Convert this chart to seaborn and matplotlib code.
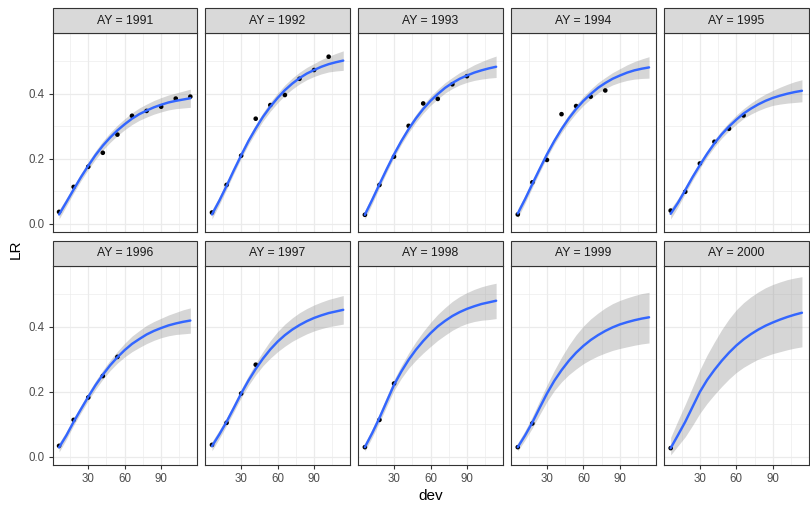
import matplotlib
matplotlib.use("Agg")
import matplotlib.pyplot as plt
import seaborn as sns
import pandas as pd
from matplotlib.patches import Rectangle
from matplotlib.ticker import FixedLocator, StrMethodFormatter

# ---------------- data ----------------
years = [1991, 1992, 1993, 1994, 1995, 1996, 1997, 1998, 1999, 2000]
dev_obs = [6, 18, 30, 42, 54, 66, 78, 90, 102, 114]
dev_fit = [6, 12, 18, 24, 30, 36, 42, 48, 54, 60, 66, 72, 78, 84, 90, 96, 102, 108, 114]
x_ticks = [30, 60, 90]
y_ticks = [0.0, 0.2, 0.4]

obs_1991 = [0.036, 0.113, 0.175, 0.218, 0.274, 0.332, 0.347, 0.360, 0.385, 0.391]
obs_1992 = [0.034, 0.119, 0.209, 0.323, 0.365, 0.396, 0.446, 0.473, 0.514]
obs_1993 = [0.027, 0.119, 0.206, 0.301, 0.370, 0.384, 0.429, 0.454]
obs_1994 = [0.028, 0.127, 0.196, 0.337, 0.362, 0.391, 0.410]
obs_1995 = [0.040, 0.098, 0.185, 0.252, 0.292, 0.333]
obs_1996 = [0.033, 0.113, 0.182, 0.248, 0.307]
obs_1997 = [0.036, 0.104, 0.194, 0.283]
obs_1998 = [0.029, 0.113, 0.225]
obs_1999 = [0.029, 0.102]
obs_2000 = [0.026]

fit_1991 = [0.028, 0.066, 0.105, 0.143, 0.178, 0.211, 0.240, 0.265, 0.287, 0.306, 0.323, 0.337, 0.348, 0.358, 0.366, 0.373, 0.378, 0.382, 0.386]
lo_1991 = [0.014, 0.054, 0.094, 0.132, 0.166, 0.198, 0.226, 0.250, 0.271, 0.289, 0.305, 0.318, 0.328, 0.337, 0.344, 0.350, 0.354, 0.356, 0.358]
hi_1991 = [0.042, 0.078, 0.116, 0.154, 0.190, 0.224, 0.254, 0.280, 0.303, 0.323, 0.341, 0.356, 0.368, 0.379, 0.388, 0.396, 0.402, 0.408, 0.414]

fit_1992 = [0.028, 0.070, 0.116, 0.164, 0.210, 0.254, 0.293, 0.329, 0.360, 0.387, 0.411, 0.431, 0.448, 0.462, 0.473, 0.483, 0.491, 0.497, 0.502]
lo_1992 = [0.014, 0.058, 0.105, 0.154, 0.200, 0.243, 0.281, 0.316, 0.346, 0.372, 0.395, 0.414, 0.430, 0.443, 0.453, 0.461, 0.467, 0.470, 0.472]
hi_1992 = [0.042, 0.082, 0.127, 0.174, 0.220, 0.265, 0.305, 0.342, 0.374, 0.402, 0.427, 0.448, 0.466, 0.481, 0.493, 0.505, 0.515, 0.524, 0.532]

fit_1993 = [0.027, 0.073, 0.121, 0.168, 0.213, 0.254, 0.291, 0.324, 0.353, 0.378, 0.399, 0.418, 0.433, 0.446, 0.456, 0.465, 0.472, 0.478, 0.483]
lo_1993 = [0.013, 0.061, 0.110, 0.158, 0.203, 0.244, 0.280, 0.312, 0.340, 0.364, 0.384, 0.402, 0.416, 0.427, 0.435, 0.441, 0.445, 0.448, 0.450]
hi_1993 = [0.041, 0.085, 0.132, 0.178, 0.223, 0.264, 0.302, 0.336, 0.366, 0.392, 0.414, 0.434, 0.450, 0.465, 0.477, 0.489, 0.499, 0.508, 0.516]

fit_1994 = [0.031, 0.075, 0.122, 0.168, 0.213, 0.254, 0.291, 0.324, 0.353, 0.378, 0.399, 0.418, 0.433, 0.446, 0.456, 0.465, 0.472, 0.477, 0.481]
lo_1994 = [0.017, 0.063, 0.111, 0.158, 0.203, 0.244, 0.280, 0.312, 0.340, 0.364, 0.384, 0.402, 0.416, 0.427, 0.435, 0.441, 0.445, 0.447, 0.448]
hi_1994 = [0.045, 0.087, 0.133, 0.178, 0.223, 0.264, 0.302, 0.336, 0.366, 0.392, 0.414, 0.434, 0.450, 0.465, 0.477, 0.489, 0.499, 0.507, 0.514]

fit_1995 = [0.030, 0.064, 0.103, 0.143, 0.180, 0.215, 0.247, 0.275, 0.299, 0.320, 0.339, 0.354, 0.367, 0.378, 0.387, 0.394, 0.400, 0.405, 0.409]
lo_1995 = [0.014, 0.051, 0.092, 0.133, 0.170, 0.205, 0.236, 0.263, 0.286, 0.306, 0.324, 0.337, 0.348, 0.357, 0.364, 0.368, 0.371, 0.373, 0.375]
hi_1995 = [0.046, 0.077, 0.114, 0.153, 0.190, 0.225, 0.258, 0.287, 0.312, 0.334, 0.354, 0.371, 0.386, 0.399, 0.410, 0.420, 0.429, 0.437, 0.443]

fit_1996 = [0.028, 0.065, 0.107, 0.146, 0.184, 0.220, 0.252, 0.281, 0.306, 0.328, 0.347, 0.362, 0.376, 0.387, 0.396, 0.404, 0.410, 0.415, 0.419]
lo_1996 = [0.014, 0.053, 0.096, 0.135, 0.172, 0.207, 0.238, 0.265, 0.288, 0.307, 0.323, 0.336, 0.348, 0.358, 0.366, 0.372, 0.376, 0.378, 0.380]
hi_1996 = [0.042, 0.077, 0.118, 0.157, 0.196, 0.233, 0.266, 0.297, 0.324, 0.349, 0.371, 0.388, 0.404, 0.416, 0.426, 0.436, 0.444, 0.452, 0.458]

fit_1997 = [0.032, 0.068, 0.107, 0.150, 0.194, 0.234, 0.270, 0.302, 0.330, 0.354, 0.374, 0.391, 0.405, 0.417, 0.427, 0.435, 0.442, 0.447, 0.452]
lo_1997 = [0.018, 0.055, 0.095, 0.138, 0.181, 0.219, 0.252, 0.280, 0.303, 0.323, 0.340, 0.355, 0.367, 0.378, 0.387, 0.394, 0.400, 0.404, 0.408]
hi_1997 = [0.046, 0.081, 0.119, 0.162, 0.207, 0.249, 0.288, 0.324, 0.357, 0.385, 0.408, 0.427, 0.443, 0.456, 0.467, 0.476, 0.484, 0.490, 0.496]

fit_1998 = [0.029, 0.072, 0.119, 0.170, 0.221, 0.262, 0.298, 0.329, 0.356, 0.380, 0.401, 0.418, 0.433, 0.445, 0.455, 0.463, 0.470, 0.475, 0.480]
lo_1998 = [0.016, 0.059, 0.105, 0.155, 0.204, 0.241, 0.272, 0.297, 0.319, 0.339, 0.358, 0.374, 0.389, 0.401, 0.410, 0.416, 0.420, 0.422, 0.425]
hi_1998 = [0.042, 0.085, 0.133, 0.185, 0.237, 0.280, 0.319, 0.354, 0.385, 0.413, 0.438, 0.459, 0.478, 0.493, 0.505, 0.515, 0.523, 0.529, 0.534]

fit_1999 = [0.029, 0.065, 0.105, 0.150, 0.194, 0.233, 0.266, 0.295, 0.320, 0.341, 0.359, 0.374, 0.387, 0.398, 0.407, 0.414, 0.420, 0.425, 0.429]
lo_1999 = [0.017, 0.051, 0.088, 0.129, 0.169, 0.203, 0.230, 0.252, 0.270, 0.286, 0.299, 0.310, 0.319, 0.327, 0.333, 0.338, 0.343, 0.347, 0.350]
hi_1999 = [0.042, 0.080, 0.123, 0.172, 0.220, 0.265, 0.306, 0.343, 0.375, 0.402, 0.424, 0.442, 0.458, 0.471, 0.481, 0.489, 0.496, 0.502, 0.506]

fit_2000 = [0.026, 0.066, 0.107, 0.153, 0.199, 0.236, 0.267, 0.295, 0.320, 0.342, 0.361, 0.377, 0.391, 0.403, 0.413, 0.422, 0.430, 0.437, 0.443]
lo_2000 = [0.005, 0.033, 0.061, 0.096, 0.133, 0.164, 0.191, 0.216, 0.239, 0.259, 0.275, 0.288, 0.300, 0.309, 0.317, 0.323, 0.329, 0.334, 0.338]
hi_2000 = [0.059, 0.111, 0.161, 0.214, 0.267, 0.313, 0.353, 0.391, 0.424, 0.452, 0.474, 0.492, 0.507, 0.520, 0.530, 0.538, 0.545, 0.550, 0.554]

obs_by_year = dict(zip(years, [obs_1991, obs_1992, obs_1993, obs_1994, obs_1995,
                               obs_1996, obs_1997, obs_1998, obs_1999, obs_2000]))
fit_by_year = dict(zip(years, [fit_1991, fit_1992, fit_1993, fit_1994, fit_1995,
                               fit_1996, fit_1997, fit_1998, fit_1999, fit_2000]))
lo_by_year = dict(zip(years, [lo_1991, lo_1992, lo_1993, lo_1994, lo_1995,
                              lo_1996, lo_1997, lo_1998, lo_1999, lo_2000]))
hi_by_year = dict(zip(years, [hi_1991, hi_1992, hi_1993, hi_1994, hi_1995,
                              hi_1996, hi_1997, hi_1998, hi_1999, hi_2000]))

# ---------------- style ----------------
sns.set_theme(style="white")
plt.rcParams['font.family'] = ['Liberation Sans', 'DejaVu Sans']

W, H = 810, 509
fig, axes = plt.subplots(2, 5, figsize=(W / 100, H / 100), dpi=100)
panel_w = 144.4
panel_h = 199.0
fig.subplots_adjust(left=52.5 / W, right=808.5 / W, top=1 - 33 / H, bottom=1 - 465 / H,
                    wspace=8.5 / panel_w, hspace=34 / panel_h)

grid_col = '#EBEBEB'
frame_col = '#333333'
strip_h = 25.0 / panel_h

for i, yr in enumerate(years):
    ax = axes.flat[i]
    row, col = divmod(i, 5)
    ax.set_facecolor('white')

    ax.fill_between(dev_fit, lo_by_year[yr], hi_by_year[yr], color='#999999',
                    alpha=0.4, linewidth=0, zorder=2)
    obs = obs_by_year[yr]
    df_obs = pd.DataFrame({'dev': dev_obs[:len(obs)], 'LR': obs})
    sns.scatterplot(data=df_obs, x='dev', y='LR', ax=ax, color='black', s=11,
                    edgecolor='none', linewidth=0, legend=False, zorder=3)
    df_fit = pd.DataFrame({'dev': dev_fit, 'LR': fit_by_year[yr]})
    sns.lineplot(data=df_fit, x='dev', y='LR', ax=ax, color='#3366FF',
                 linewidth=1.75, legend=False, zorder=4)

    ax.set_xlim(0.6, 119.4)
    ax.set_ylim(-0.026, 0.587)
    ax.xaxis.set_major_locator(FixedLocator(x_ticks))
    ax.xaxis.set_minor_locator(FixedLocator([15, 45, 75, 105]))
    ax.yaxis.set_major_locator(FixedLocator(y_ticks))
    ax.yaxis.set_minor_locator(FixedLocator([0.1, 0.3, 0.5]))
    ax.yaxis.set_major_formatter(StrMethodFormatter('{x:.1f}'))
    ax.grid(True, which='major', color=grid_col, linewidth=0.9, zorder=0)
    ax.grid(True, which='minor', color=grid_col, linewidth=0.45, zorder=0)
    ax.set_axisbelow(True)
    for sp in ax.spines.values():
        sp.set_color(frame_col)
        sp.set_linewidth(0.8)
        sp.set_visible(True)

    ax.tick_params(which='major', length=2.9, width=0.8, color=frame_col,
                   labelsize=8.3, labelcolor='#4D4D4D', pad=3,
                   bottom=(row == 1), left=(col == 0),
                   labelbottom=(row == 1), labelleft=(col == 0))
    ax.tick_params(which='minor', length=0, bottom=False, left=False)
    ax.set_xlabel('')
    ax.set_ylabel('')

    rect = Rectangle((0, 1), 1, strip_h, transform=ax.transAxes, facecolor='#D9D9D9',
                     edgecolor=frame_col, linewidth=0.8, clip_on=False, zorder=5)
    ax.add_patch(rect)
    ax.text(0.5, 1 + strip_h / 2, f'AY = {yr}', transform=ax.transAxes, ha='center',
            va='center', fontsize=8.8, color='#1A1A1A', zorder=6)

fig.text(430.5 / W, 1 - 496 / H, 'dev', ha='center', va='center', fontsize=11, color='black')
fig.text(15.5 / W, 1 - 249 / H, 'LR', ha='center', va='center', rotation=90,
         fontsize=11, color='black')

fig.savefig('out.png', dpi=100, facecolor='white')
